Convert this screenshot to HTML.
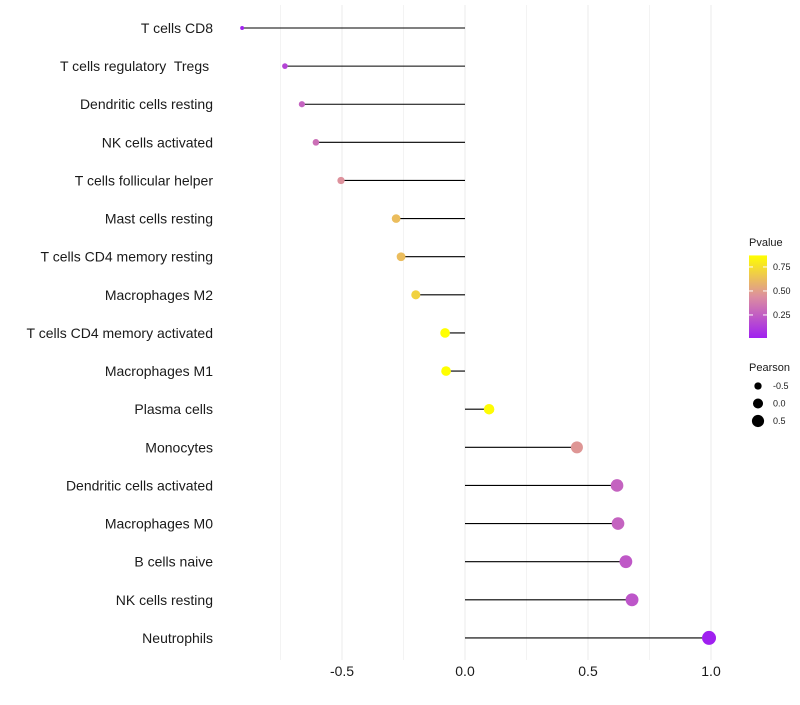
<!DOCTYPE html>
<html><head><meta charset="utf-8"><style>
body{margin:0;background:#fff;font-family:"Liberation Sans",sans-serif}
</style></head><body>
<svg id="chart" width="800" height="700" xmlns="http://www.w3.org/2000/svg" font-family="Liberation Sans, sans-serif"></svg>
<script>
const categories=["T cells CD8","T cells regulatory  Tregs ","Dendritic cells resting","NK cells activated","T cells follicular helper","Mast cells resting","T cells CD4 memory resting","Macrophages M2","T cells CD4 memory activated","Macrophages M1","Plasma cells","Monocytes","Dendritic cells activated","Macrophages M0","B cells naive","NK cells resting","Neutrophils"];
const pearson=[-0.906,-0.732,-0.663,-0.606,-0.504,-0.28,-0.26,-0.2,-0.081,-0.077,0.098,0.455,0.618,0.622,0.654,0.679,0.992];
const pvalues=[0.02,0.15,0.27,0.32,0.45,0.62,0.62,0.7,0.87,0.87,0.86,0.47,0.27,0.27,0.23,0.22,0.01];
const xTicks=[-0.5,0,0.5,1.0];
const xTickLabels=["-0.5","0.0","0.5","1.0"];
const pTicks=[0.25,0.5,0.75];
const sizeLegend=[-0.5,0,0.5];
const NS="http://www.w3.org/2000/svg";
const svg=document.getElementById('chart');
const X=v=>465+v*246;
const Y=i=>28+i*38.12;
const P=p=>338-(p-0.01)*96;
const R=v=>Math.sqrt(Math.max(2,25.3+23.7*v));
function lerp(a,b,t){return a.map((x,i)=>Math.round(x+(b[i]-x)*t));}
function col(p){const lo=[160,32,240],mid=[220,142,160],hi=[255,255,0];const t=Math.max(0,Math.min(1,(p-0.01)/0.86));
 const c=t<0.5?lerp(lo,mid,t/0.5):lerp(mid,hi,(t-0.5)/0.5);return `rgb(${c})`;}
function el(tag,attrs,parent){const e=document.createElementNS(NS,tag);for(const k in attrs)e.setAttribute(k,attrs[k]);(parent||svg).appendChild(e);return e;}
[-0.75,-0.5,-0.25,0,0.25,0.5,0.75,1.0].forEach(v=>{const g=el('line',{x1:X(v),x2:X(v),y1:5,y2:660,stroke:'#ebebeb','stroke-width':v*4%2===0?1:0.6});

});
categories.forEach((c,i)=>{const y=Y(i);
 const t=el('text',{x:213,y:y+5,'text-anchor':'end','font-size':14,fill:'#1a1a1a',style:'white-space:pre'});t.textContent=c;
 
 
 const l=el('line',{x1:X(0),x2:X(pearson[i]),y1:y,y2:y,stroke:'#000','stroke-width':1.1});
 
 
 const d=el('circle',{cx:X(pearson[i]),cy:y,r:R(pearson[i]),fill:col(pvalues[i])});
 
 
});
xTicks.forEach((v,i)=>{const t=el('text',{x:X(v),y:676,'text-anchor':'middle','font-size':14,fill:'#1a1a1a'});t.textContent=xTickLabels[i];
 
 });
const defs=el('defs',{});const gr=el('linearGradient',{id:'pg',x1:0,y1:1,x2:0,y2:0},defs);
for(let k=0;k<=10;k++){el('stop',{offset:k/10,'stop-color':col(0.01+0.86*k/10)},gr);}
const lt=el('text',{x:749,y:246,'font-size':11,fill:'#1a1a1a'});lt.textContent='Pvalue';


const cb=el('rect',{x:749,y:P(0.87),width:18,height:P(0.01)-P(0.87),fill:'url(#pg)'});


pTicks.forEach(p=>{el('line',{x1:749,x2:753,y1:P(p),y2:P(p),stroke:'#fff'});el('line',{x1:763,x2:767,y1:P(p),y2:P(p),stroke:'#fff'});
 const t=el('text',{x:773,y:P(p)+3,'font-size':9,fill:'#1a1a1a'});t.textContent=p.toFixed(2);
 
 });
const st=el('text',{x:749,y:371,'font-size':11,fill:'#1a1a1a'});st.textContent='Pearson';


sizeLegend.forEach((v,i)=>{const y=386+i*17.5;el('circle',{cx:758,cy:y,r:R(v),fill:'#000'});
 const t=el('text',{x:773,y:y+3,'font-size':9,fill:'#1a1a1a'});t.textContent=v.toFixed(1);
 
 });
</script>
</body></html>
